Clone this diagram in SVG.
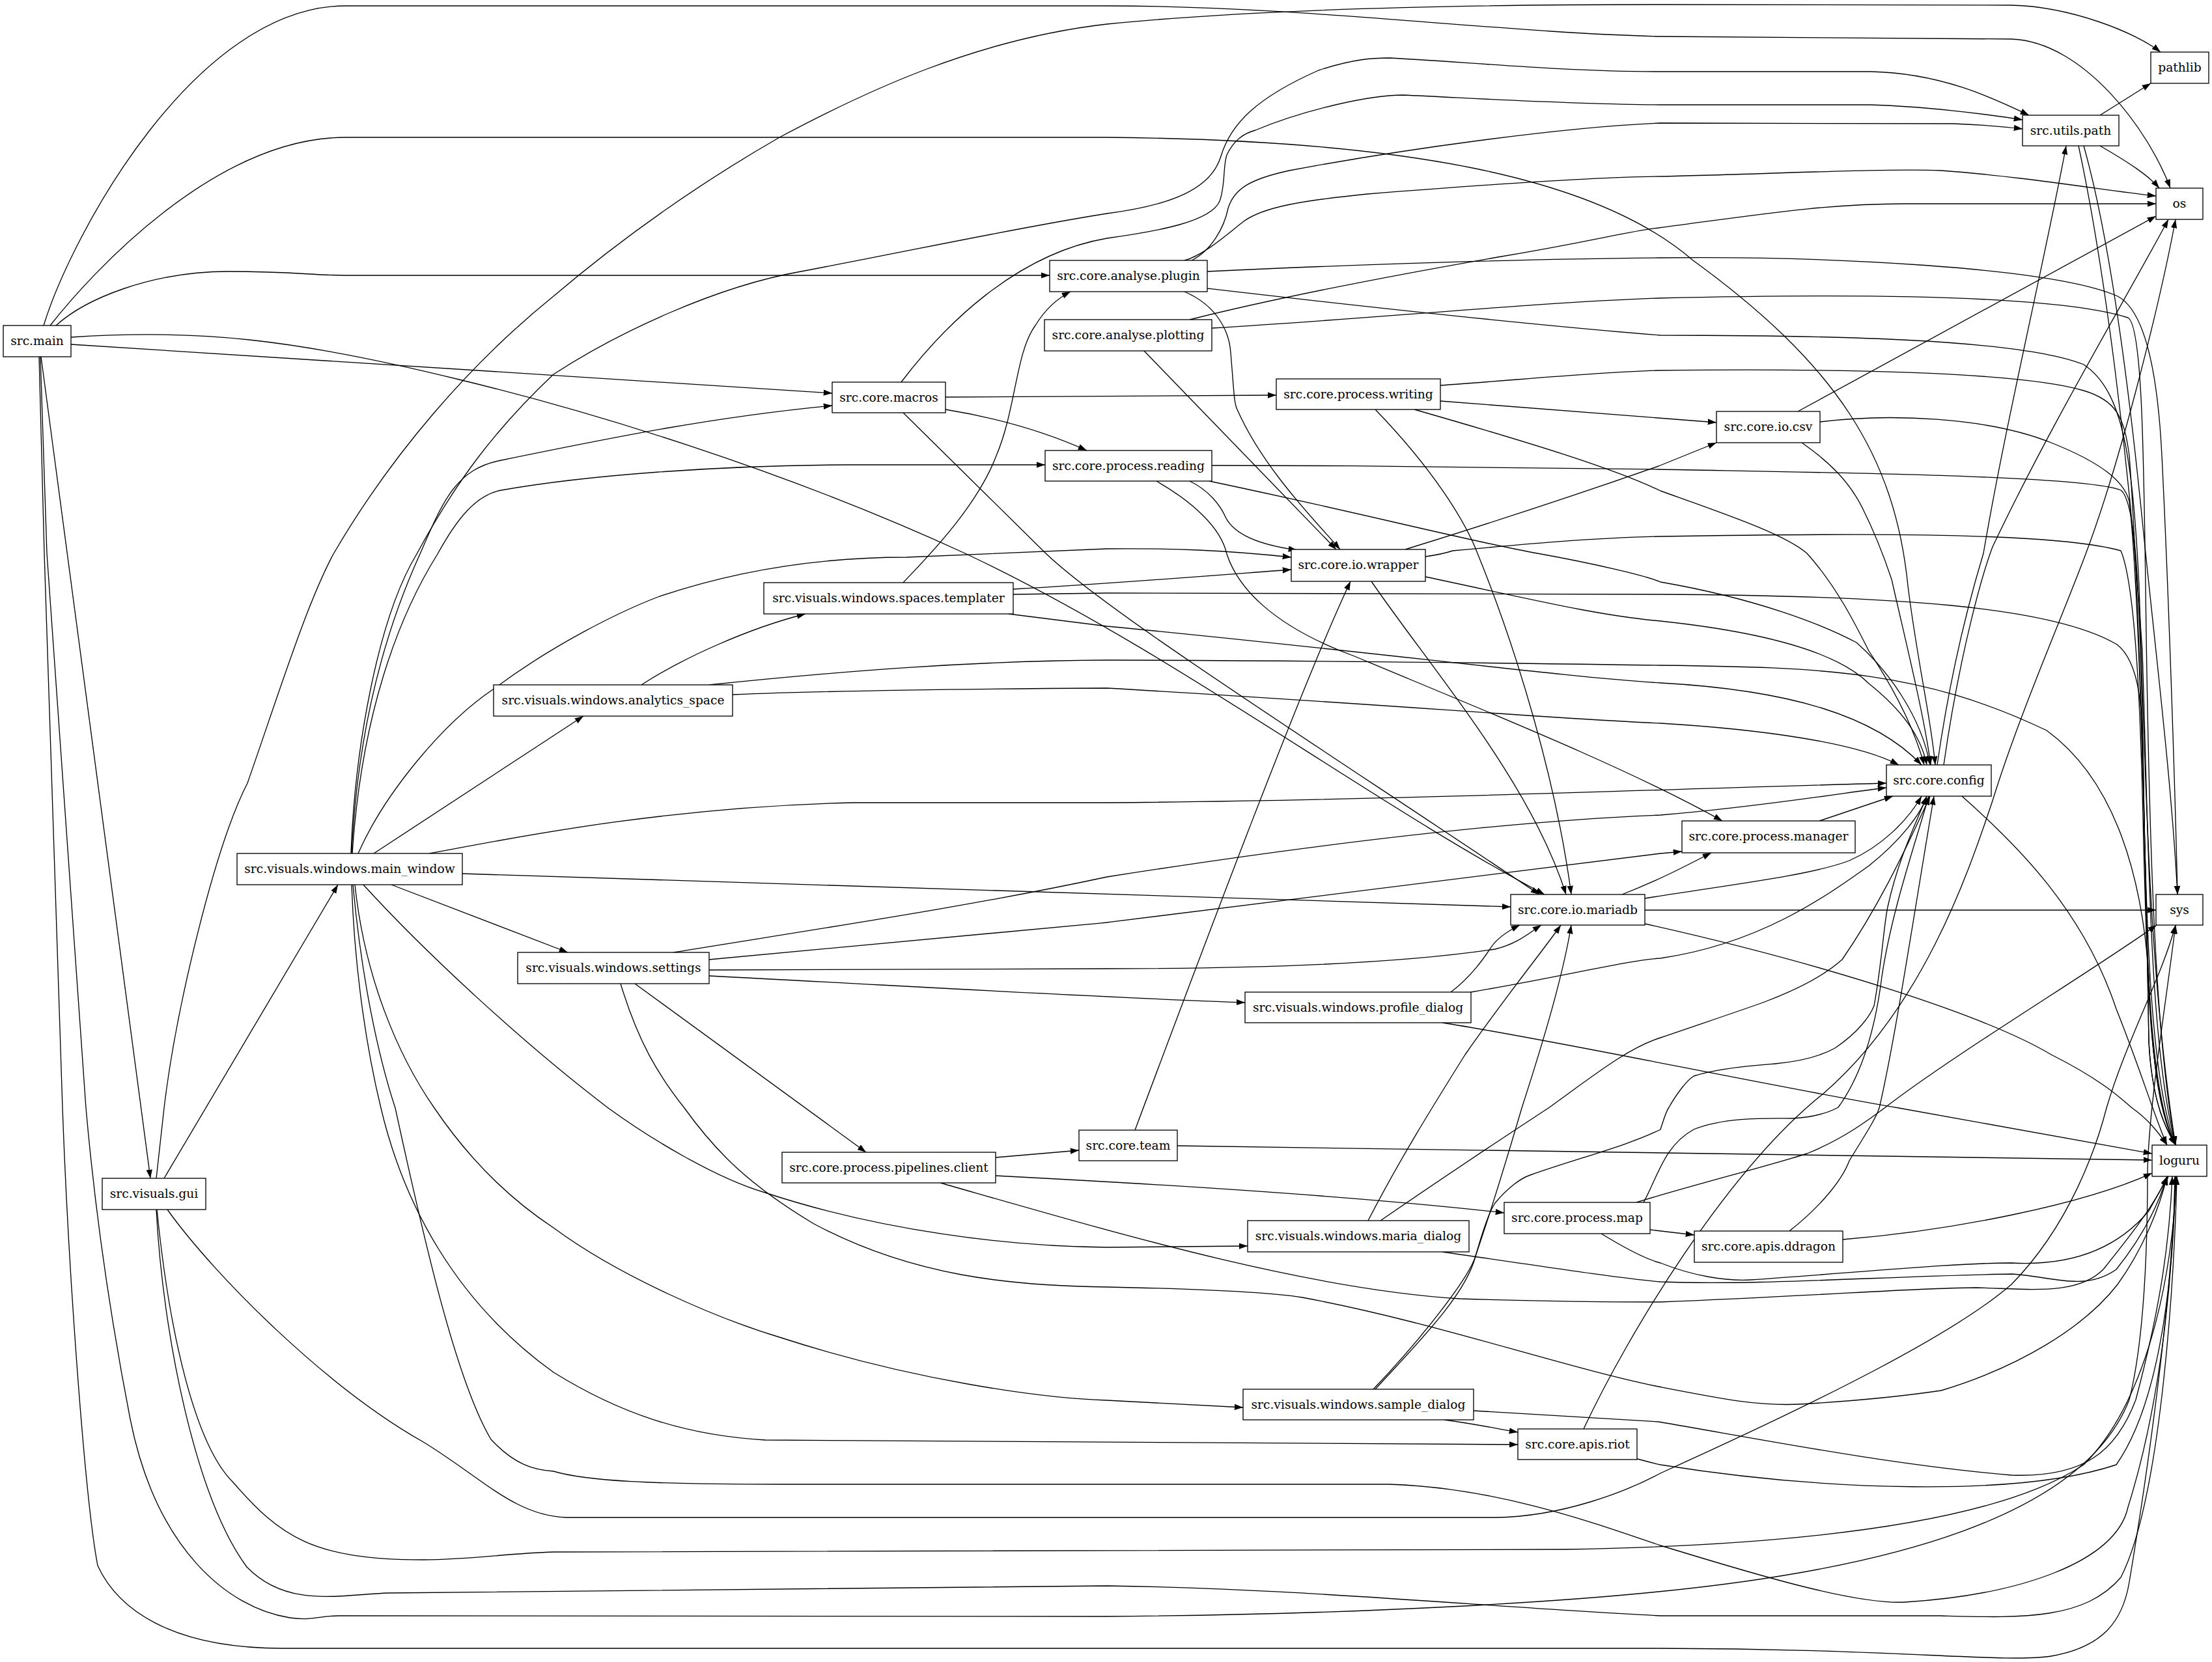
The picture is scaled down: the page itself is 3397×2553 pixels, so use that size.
<svg xmlns="http://www.w3.org/2000/svg" width="3397" height="2553" viewBox="0 0 3397 2553">
<style>
.e{fill:none;stroke:#000;stroke-width:1.33;marker-end:url(#a)}
.n rect{fill:#fff;stroke:#000;stroke-width:1.33}
.n text{font-family:"DejaVu Serif",serif;font-size:18.67px;text-anchor:middle;fill:#000}
</style>
<defs>
<marker id="a" markerUnits="userSpaceOnUse" markerWidth="14" markerHeight="10" refX="13.3" refY="4.67" orient="auto"><path d="M0,0 L13.3,4.67 L0,9.33 z" fill="#000"/></marker>
</defs>
<rect x="0" y="0" width="3397" height="2553" fill="#fff"/>
<g id="edges">
<path class="e" d="M67,500 C110,360 300,9 531,9 L1700,9 C2000,9 2300,50 2550,56 L3089,60 C3200,64 3300,200 3333,289"/>
<path class="e" d="M77,500 C140,420 330,211 531,211 L1700,211 C2150,215 2450,270 2600,400 C2820,560 2910,700 2930,900 C2945,1020 2965,1100 2972,1175"/>
<path class="e" d="M86,500 C130,460 230,417 352,417 C450,417 480,423 531,423 L1612,423"/>
<path class="e" d="M109,518 C300,505 450,520 705,583 C900,630 1200,720 1482,850 C1800,1000 2100,1230 2372,1374"/>
<path class="e" d="M109,529 L1278,604"/>
<path class="e" d="M63,548 L231,1810"/>
<path class="e" d="M60,548 L68,850 L96,1702 C105,1950 130,2300 150,2405 C180,2470 260,2532 434,2532 L2547,2532 C2900,2532 3080,2555 3150,2544 C3230,2530 3260,2490 3270,2430 C3300,2250 3335,2000 3341,1807"/>
<path class="e" d="M62,548 L72,850 L132,1702 C145,1850 165,2000 200,2180 C240,2380 350,2470 445,2485 C480,2490 490,2482 520,2482 L1700,2483 C2100,2480 2400,2460 2547,2445 C2900,2410 3200,2330 3270,2150 C3295,2050 3298,1900 3298,1800 C3300,1700 3325,1550 3341,1421"/>
<path class="e" d="M240,1810 L252,1702 C270,1550 330,1300 380,1203 C430,1060 470,930 512,851 C600,700 720,560 850,455 C950,370 1060,290 1197,211 C1330,140 1500,60 1700,37 C1950,12 2300,7 2550,7 L3089,8 C3180,10 3280,50 3318,80"/>
<path class="e" d="M252,1810 L519,1359"/>
<path class="e" d="M240,1858 C250,2050 300,2300 379,2407 C440,2470 520,2450 596,2447 L1700,2436 C2000,2440 2300,2470 2550,2482 L2980,2482 C3100,2485 3200,2490 3257,2423 C3320,2300 3340,1950 3343,1807"/>
<path class="e" d="M241,1858 C260,2050 300,2220 358,2277 C430,2360 480,2396 650,2396 C720,2396 780,2386 850,2384 L2405,2380 C2700,2375 3050,2350 3200,2250 C3300,2150 3338,1950 3342,1807"/>
<path class="e" d="M257,1858 C330,1960 500,2130 650,2215 C740,2270 790,2328 870,2331 L2296,2331 C2400,2330 2500,2290 2550,2263 C2800,2150 3000,2050 3089,1973 C3180,1880 3220,1760 3235,1702 C3265,1600 3320,1500 3341,1421"/>
<path class="e" d="M539,1311 C545,1150 580,950 640,851 C700,740 760,660 850,575 C950,510 1100,440 1230,417 C1400,385 1560,350 1700,328 C1800,315 1860,290 1875,240 C1890,190 1930,150 2025,108 C2080,90 2110,89 2134,89 C2250,95 2400,110 2550,110 L2872,110 C2980,112 3060,150 3116,177"/>
<path class="e" d="M540,1311 C550,1100 600,950 645,851 C680,770 700,720 770,707 C950,670 1100,640 1278,623"/>
<path class="e" d="M541,1311 C555,1100 610,950 672,851 C700,800 730,760 770,753 C900,730 1100,715 1300,714 L1605,714"/>
<path class="e" d="M550,1311 C590,1220 680,1110 760,1057 C850,990 950,940 1013,916 C1150,870 1280,856 1392,856 L1700,843 C1800,842 1880,845 1983,856"/>
<path class="e" d="M574,1311 L896,1100"/>
<path class="e" d="M659,1311 C750,1295 1000,1240 1311,1233 L1700,1233 C2100,1230 2500,1214 2897,1203"/>
<path class="e" d="M710,1342 C1200,1360 1700,1375 2320,1393"/>
<path class="e" d="M601,1359 L872,1463"/>
<path class="e" d="M558,1359 C650,1460 800,1600 934,1702 C1000,1750 1100,1810 1175,1832 C1350,1890 1550,1915 1700,1916 L1916,1914"/>
<path class="e" d="M545,1359 C560,1500 610,1620 667,1702 C720,1780 780,1840 850,1886 C950,1960 1100,2025 1200,2055 C1400,2120 1600,2148 1700,2151 L1909,2162"/>
<path class="e" d="M540,1359 C545,1500 565,1620 585,1702 C620,1850 700,2000 850,2108 C950,2170 1050,2205 1175,2212 L2331,2219"/>
<path class="e" d="M542,1359 C555,1500 580,1620 607,1702 C650,1900 700,2120 754,2211 C790,2250 820,2258 850,2260 C900,2275 1000,2280 1200,2280 L2133,2280 C2300,2285 2450,2340 2550,2374 C2700,2420 2850,2465 2926,2461 C3100,2450 3250,2400 3268,2315 C3320,2150 3338,1950 3340,1807"/>
<path class="e" d="M1452,610 L1960,607"/>
<path class="e" d="M1452,629 C1550,645 1620,670 1669,692"/>
<path class="e" d="M1387,634 L1606,850 C1700,940 2000,1130 2364,1374"/>
<path class="e" d="M1384,587 C1450,500 1560,390 1700,366 C1780,355 1860,340 1873,309 C1882,285 1878,255 1884,238 C1895,215 1910,205 1928,200 C2000,170 2100,146 2155,146 C2250,150 2400,160 2550,161 L2872,161 C2950,163 3050,175 3106,184"/>
<path class="e" d="M1819,400 C1850,392 1890,355 1910,340 C1940,318 2000,308 2100,298 C2300,282 2450,272 2550,271 C2700,268 2900,258 2981,262 C3100,270 3250,295 3311,301"/>
<path class="e" d="M1830,400 C1860,385 1880,350 1886,320 C1895,290 1920,275 1980,262 C2150,230 2400,195 2550,189 L3000,190 C3050,192 3090,196 3106,198"/>
<path class="e" d="M1819,448 C1870,470 1888,510 1890,542 C1895,600 1895,620 1900,629 C1940,720 2020,800 2058,844"/>
<path class="e" d="M1854,417 C2000,410 2300,398 2547,396 C2800,393 3150,410 3252,455 C3300,480 3315,600 3320,700 C3330,900 3340,1200 3344,1374"/>
<path class="e" d="M1854,443 C2000,460 2300,495 2550,515 C2800,515 3100,520 3200,560 C3260,600 3275,700 3285,900 C3295,1200 3300,1500 3341,1759"/>
<path class="e" d="M1827,491 C1950,460 2100,430 2300,395 C2450,370 2500,355 2547,350 C2700,330 2800,313 2926,313 L3311,313"/>
<path class="e" d="M1757,539 L2052,844"/>
<path class="e" d="M1861,504 C2100,490 2350,465 2547,458 C2800,452 3150,450 3268,488 C3290,500 3292,700 3295,900 C3300,1300 3310,1600 3341,1759"/>
<path class="e" d="M2212,616 L2636,649"/>
<path class="e" d="M2172,629 C2350,680 2480,720 2550,754 C2650,790 2740,820 2775,850 C2820,900 2850,960 2870,1000 C2910,1060 2940,1120 2955,1175"/>
<path class="e" d="M2112,629 C2200,720 2250,800 2269,850 C2330,1000 2390,1200 2413,1374"/>
<path class="e" d="M2212,592 C2350,582 2450,572 2547,569 C2800,566 3100,570 3200,600 C3250,615 3262,640 3270,700 C3285,900 3295,1300 3300,1600 C3305,1700 3330,1740 3341,1759"/>
<path class="e" d="M2761,632 L3311,332"/>
<path class="e" d="M2767,680 C2810,710 2840,740 2860,780 C2880,820 2895,860 2905,890 C2930,1000 2955,1100 2965,1175"/>
<path class="e" d="M2795,648 C2900,635 3050,640 3150,680 C3230,712 3262,740 3270,770 C3285,900 3295,1300 3300,1600 C3305,1700 3330,1740 3341,1759"/>
<path class="e" d="M1827,739 C1860,755 1875,780 1880,790 C1890,815 1920,835 1992,845"/>
<path class="e" d="M1776,739 C1830,770 1875,810 1884,851 C1900,900 1950,960 2080,1008 C2300,1100 2500,1180 2645,1261"/>
<path class="e" d="M1857,739 C2100,790 2250,830 2361,850 C2450,866 2530,885 2550,894 C2700,920 2800,960 2851,987 C2900,1030 2950,1100 2964,1175"/>
<path class="e" d="M1861,715 C2100,715 2400,718 2547,721 C2800,726 3200,730 3257,753 C3280,770 3285,900 3290,1100 C3295,1400 3300,1650 3341,1759"/>
<path class="e" d="M2158,844 C2300,800 2450,750 2547,716 L2636,680"/>
<path class="e" d="M2189,886 C2350,920 2450,945 2550,954 C2700,970 2820,1000 2870,1050 C2920,1090 2950,1130 2959,1175"/>
<path class="e" d="M2106,893 C2200,1030 2350,1200 2405,1374"/>
<path class="e" d="M2189,855 C2210,852 2225,848 2231,846 C2350,835 2450,826 2550,824 C2800,820 3150,815 3257,846 C3280,900 3288,1100 3292,1300 C3298,1500 3300,1680 3341,1759"/>
<path class="e" d="M1387,895 C1420,860 1500,780 1530,700 C1560,630 1560,540 1590,500 C1605,475 1625,458 1644,448"/>
<path class="e" d="M1556,905 C1700,897 1850,885 1983,875"/>
<path class="e" d="M1556,913 L1700,911 C2100,912 2400,913 2550,913 C2900,915 3150,930 3251,990 C3290,1020 3290,1100 3292,1200 C3295,1450 3300,1680 3341,1759"/>
<path class="e" d="M1549,943 L1700,962 C2100,1000 2400,1040 2550,1049 C2750,1060 2880,1100 2951,1175"/>
<path class="e" d="M985,1052 C1050,1010 1150,965 1237,943"/>
<path class="e" d="M1089,1052 C1300,1030 1500,1015 1700,1014 C2100,1015 2400,1020 2550,1022 C2800,1025 2950,1030 3143,1122 C3250,1200 3290,1350 3300,1500 C3305,1650 3320,1720 3341,1759"/>
<path class="e" d="M1125,1067 C1300,1060 1500,1058 1700,1057 C2100,1080 2400,1105 2550,1111 C2700,1120 2850,1140 2916,1175"/>
<path class="e" d="M2975,1175 C3000,1000 3040,870 3046,850 C3080,650 3140,400 3173,224"/>
<path class="e" d="M2985,1175 C3010,1000 3045,880 3060,840 C3150,650 3270,450 3330,337"/>
<path class="e" d="M3013,1223 C3100,1300 3200,1400 3250,1550 C3290,1650 3310,1720 3328,1759"/>
<path class="e" d="M2794,1261 L2907,1223"/>
<path class="e" d="M2491,1374 C2540,1355 2580,1335 2628,1310"/>
<path class="e" d="M2526,1380 C2650,1360 2780,1345 2840,1322 C2890,1300 2930,1260 2951,1223"/>
<path class="e" d="M2526,1398 L3311,1398"/>
<path class="e" d="M2526,1419 C2800,1480 3050,1560 3150,1620 C3230,1660 3260,1690 3273,1701 C3300,1720 3315,1740 3328,1759"/>
<path class="e" d="M2228,1524 C2260,1500 2280,1470 2290,1455 C2300,1440 2320,1428 2334,1421"/>
<path class="e" d="M2259,1524 C2400,1500 2500,1475 2550,1472 C2700,1450 2800,1380 2870,1330 C2920,1290 2950,1250 2959,1223"/>
<path class="e" d="M2215,1571 C2400,1600 2700,1665 2916,1702 L3305,1772"/>
<path class="e" d="M1743,1736 C1850,1450 2000,1050 2074,893"/>
<path class="e" d="M1808,1760 L3305,1782"/>
<path class="e" d="M1529,1778 L1657,1767"/>
<path class="e" d="M1529,1806 C1900,1825 2150,1845 2310,1863"/>
<path class="e" d="M1444,1817 C1700,1890 2000,1980 2242,1995 C2400,2000 2500,2000 2550,2000 C2800,1990 2950,1978 3035,1978 C3120,1980 3190,1990 3230,1950 C3270,1900 3310,1850 3328,1807"/>
<path class="e" d="M2101,1875 C2150,1780 2200,1700 2250,1620 C2320,1520 2370,1460 2397,1421"/>
<path class="e" d="M2120,1875 C2200,1820 2320,1740 2378,1702 C2450,1650 2500,1610 2550,1594 C2620,1570 2680,1550 2710,1539 C2760,1520 2800,1500 2829,1474 C2880,1400 2920,1320 2964,1223"/>
<path class="e" d="M2215,1923 C2400,1950 2500,1965 2550,1969 C2700,1975 2900,1960 3089,1957 C3150,1960 3200,1985 3250,1950 C3290,1900 3315,1850 3328,1807"/>
<path class="e" d="M2534,1889 L2602,1897"/>
<path class="e" d="M2524,1847 C2545,1810 2555,1760 2601,1735 C2650,1715 2720,1718 2753,1718 C2790,1716 2810,1708 2823,1701 C2860,1650 2880,1580 2890,1500 C2905,1400 2940,1300 2962,1223"/>
<path class="e" d="M2513,1847 C2600,1820 2720,1790 2775,1772 C2830,1750 2870,1720 2894,1702 C3000,1620 3200,1500 3312,1421"/>
<path class="e" d="M2459,1895 C2500,1920 2530,1935 2550,1940 C2600,1960 2650,1968 2688,1966 C2850,1955 3000,1940 3089,1940 C3180,1945 3250,1920 3300,1860 L3330,1807"/>
<path class="e" d="M2748,1891 C2800,1850 2830,1810 2840,1783 C2860,1750 2880,1720 2886,1702 C2910,1600 2940,1400 2970,1223"/>
<path class="e" d="M2830,1904 C3000,1890 3200,1850 3305,1802"/>
<path class="e" d="M2109,2134 C2180,2060 2250,1970 2264,1935 C2290,1860 2320,1760 2337,1702 C2370,1600 2400,1500 2413,1421"/>
<path class="e" d="M2112,2134 C2180,2060 2250,1990 2266,1930 C2280,1880 2288,1860 2296,1848 C2315,1825 2335,1810 2350,1805 C2420,1780 2500,1760 2550,1735 C2555,1720 2558,1708 2563,1701 C2575,1680 2590,1660 2601,1653 C2640,1640 2700,1636 2726,1634 C2770,1630 2800,1620 2818,1610 C2855,1585 2872,1560 2878,1545 C2890,1480 2893,1420 2899,1393 C2915,1320 2940,1270 2959,1223"/>
<path class="e" d="M2218,2181 C2270,2188 2300,2195 2331,2200"/>
<path class="e" d="M2263,2167 C2400,2175 2500,2182 2547,2184 C2700,2210 2900,2250 3089,2266 C3200,2270 3250,2230 3280,2150 C3320,2000 3332,1900 3336,1807"/>
<path class="e" d="M2432,2195 C2500,2050 2650,1800 2800,1680 C2950,1550 3020,1350 3060,1230 C3100,1100 3170,940 3203,851 C3260,700 3320,450 3341,337"/>
<path class="e" d="M2514,2241 C2530,2245 2540,2248 2550,2250 C2800,2290 3100,2300 3250,2250 C3320,2150 3338,1950 3341,1807"/>
<path class="e" d="M3225,177 L3303,128"/>
<path class="e" d="M3225,224 C3270,250 3300,270 3316,289"/>
<path class="e" d="M3200,224 C3230,330 3260,500 3290,800 C3310,1000 3335,1200 3344,1374"/>
<path class="e" d="M3192,224 C3230,400 3270,700 3290,1000 C3300,1300 3300,1600 3341,1759"/>
<path class="e" d="M1034,1463 C1300,1420 1500,1390 1700,1347 C2000,1300 2300,1262 2550,1252 C2700,1240 2850,1215 2897,1210"/>
<path class="e" d="M1089,1474 C1300,1455 1500,1437 1700,1417 C2000,1380 2300,1340 2550,1311 L2583,1308"/>
<path class="e" d="M1089,1490 L1700,1488 C1950,1488 2150,1480 2296,1458 C2330,1450 2350,1432 2367,1421"/>
<path class="e" d="M1089,1499 C1400,1515 1700,1533 1912,1540"/>
<path class="e" d="M975,1511 L1330,1770"/>
<path class="e" d="M953,1511 C980,1600 1010,1650 1051,1702 C1100,1770 1150,1820 1250,1880 C1400,1960 1550,1975 1700,1977 C1850,1980 1950,1985 2000,1993 C2200,2030 2400,2100 2547,2130 C2650,2150 2700,2160 2764,2157 C2850,2152 2920,2145 2981,2136 C3100,2100 3200,2040 3252,1973 C3290,1920 3315,1860 3328,1807"/>
</g>
<g id="n_main" class="n"><rect x="5" y="500" width="104" height="48"/><text x="57" y="530">src.main</text></g>
<g id="n_pathlib" class="n"><rect x="3303" y="80" width="89" height="48"/><text x="3347.5" y="110">pathlib</text></g>
<g id="n_utils_path" class="n"><rect x="3106" y="177" width="148" height="47"/><text x="3180" y="207">src.utils.path</text></g>
<g id="n_os" class="n"><rect x="3311" y="289" width="72" height="48"/><text x="3347" y="319">os</text></g>
<g id="n_plugin" class="n"><rect x="1612" y="400" width="242" height="48"/><text x="1733" y="430">src.core.analyse.plugin</text></g>
<g id="n_plotting" class="n"><rect x="1604" y="491" width="257" height="48"/><text x="1732.5" y="521">src.core.analyse.plotting</text></g>
<g id="n_macros" class="n"><rect x="1278" y="587" width="174" height="47"/><text x="1365" y="617">src.core.macros</text></g>
<g id="n_writing" class="n"><rect x="1960" y="582" width="252" height="47"/><text x="2086" y="612">src.core.process.writing</text></g>
<g id="n_csv" class="n"><rect x="2636" y="632" width="159" height="48"/><text x="2715.5" y="662">src.core.io.csv</text></g>
<g id="n_reading" class="n"><rect x="1605" y="692" width="256" height="47"/><text x="1733" y="722">src.core.process.reading</text></g>
<g id="n_wrapper" class="n"><rect x="1983" y="844" width="206" height="49"/><text x="2086" y="874">src.core.io.wrapper</text></g>
<g id="n_templater" class="n"><rect x="1173" y="895" width="383" height="48"/><text x="1364.5" y="925">src.visuals.windows.spaces.templater</text></g>
<g id="n_analytics" class="n"><rect x="758" y="1052" width="367" height="48"/><text x="941.5" y="1082">src.visuals.windows.analytics_space</text></g>
<g id="n_config" class="n"><rect x="2897" y="1175" width="161" height="48"/><text x="2977.5" y="1205">src.core.config</text></g>
<g id="n_manager" class="n"><rect x="2583" y="1261" width="266" height="49"/><text x="2716" y="1291">src.core.process.manager</text></g>
<g id="n_main_window" class="n"><rect x="364" y="1311" width="346" height="48"/><text x="537" y="1341">src.visuals.windows.main_window</text></g>
<g id="n_mariadb" class="n"><rect x="2320" y="1374" width="206" height="47"/><text x="2423" y="1404">src.core.io.mariadb</text></g>
<g id="n_sys" class="n"><rect x="3311" y="1374" width="72" height="47"/><text x="3347" y="1404">sys</text></g>
<g id="n_settings" class="n"><rect x="795" y="1463" width="294" height="48"/><text x="942" y="1493">src.visuals.windows.settings</text></g>
<g id="n_profile" class="n"><rect x="1912" y="1524" width="347" height="47"/><text x="2085.5" y="1554">src.visuals.windows.profile_dialog</text></g>
<g id="n_team" class="n"><rect x="1657" y="1736" width="151" height="47"/><text x="1732.5" y="1766">src.core.team</text></g>
<g id="n_pipelines" class="n"><rect x="1201" y="1770" width="328" height="47"/><text x="1365" y="1800">src.core.process.pipelines.client</text></g>
<g id="n_loguru" class="n"><rect x="3305" y="1759" width="84" height="48"/><text x="3347" y="1789">loguru</text></g>
<g id="n_gui" class="n"><rect x="157" y="1810" width="159" height="48"/><text x="236.5" y="1840">src.visuals.gui</text></g>
<g id="n_map" class="n"><rect x="2310" y="1847" width="224" height="48"/><text x="2422" y="1877">src.core.process.map</text></g>
<g id="n_maria_dialog" class="n"><rect x="1916" y="1875" width="340" height="48"/><text x="2086" y="1905">src.visuals.windows.maria_dialog</text></g>
<g id="n_ddragon" class="n"><rect x="2602" y="1891" width="228" height="48"/><text x="2716" y="1921">src.core.apis.ddragon</text></g>
<g id="n_sample" class="n"><rect x="1909" y="2134" width="354" height="47"/><text x="2086" y="2164">src.visuals.windows.sample_dialog</text></g>
<g id="n_riot" class="n"><rect x="2331" y="2195" width="183" height="47"/><text x="2422.5" y="2225">src.core.apis.riot</text></g>
</svg>
